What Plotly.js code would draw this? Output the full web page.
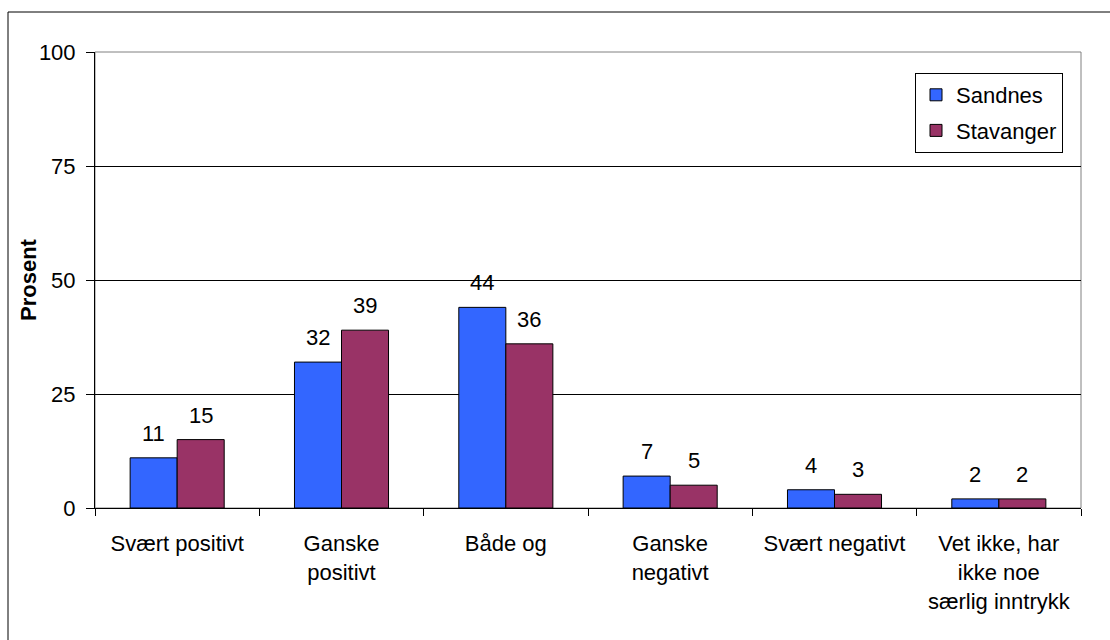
<!DOCTYPE html>
<html>
<head>
<meta charset="utf-8">
<script src="https://cdn.plot.ly/plotly-3.0.1.min.js"></script>
<style>
html,body{margin:0;padding:0;background:#fff;}
#chart{width:1110px;height:640px;}
</style>
</head>
<body>
<div id="chart"></div>
<script>
const categories = ["Svært positivt", "Ganske<br>positivt", "Både og", "Ganske<br>negativt", "Svært negativt", "Vet ikke, har<br>ikke noe<br>særlig inntrykk"];
const sandnes = [11, 32, 44, 7, 4, 2];
const stavanger = [15, 39, 36, 5, 3, 2];
const seriesNames = ["Sandnes", "Stavanger"];
const yTicks = [0, 25, 50, 75, 100];
const yTitle = "Prosent";

const FONT = "Liberation Sans, Arial, sans-serif";
const FS = 22;
const W = 1110, H = 640;
const mL = 95, mR = 29, mT = 52, mB = 132;
const pw = W - mL - mR, ph = H - mT - mB;
const px = v => (v - mL) / pw;
const py = v => (H - mB - v) / ph;

const traces = [
  {type: "bar", name: seriesNames[0], x: categories, y: sandnes, legendgroup: "a",
   marker: {color: "#3366FF", line: {color: "#000", width: 1}}},
  {type: "bar", name: seriesNames[1], x: categories, y: stavanger, legendgroup: "b",
   marker: {color: "#993366", line: {color: "#000", width: 1}}}
];

const barHalf = 23.5;
const annotations = [];
[sandnes, stavanger].forEach((arr, s) => {
  arr.forEach((v, i) => {
    annotations.push({
      x: categories[i], y: v, xref: "x", yref: "y",
      text: String(v), showarrow: false,
      xshift: s === 0 ? -barHalf : barHalf, yshift: 10,
      yanchor: "bottom", xanchor: "center",
      font: {family: FONT, size: FS, color: "#000"}
    });
  });
});
annotations.push({
  xref: "paper", yref: "paper", x: px(28), y: 0.5,
  text: "<b>" + yTitle + "</b>", textangle: -90, showarrow: false,
  xanchor: "center", yanchor: "middle",
  font: {family: FONT, size: FS, color: "#000"}
});

const layout = {
  width: W, height: H,
  margin: {l: mL, r: mR, t: mT, b: mB, pad: 0},
  paper_bgcolor: "#fff", plot_bgcolor: "#fff",
  barmode: "group", bargap: 0.4276, bargroupgap: 0,
  font: {family: FONT, size: FS, color: "#000"},
  showlegend: true,
  legend: {
    x: px(915), y: py(73), xanchor: "left", yanchor: "top",
    bordercolor: "#000", borderwidth: 1, bgcolor: "#fff",
    font: {family: FONT, size: FS, color: "#000"},
    traceorder: "grouped", tracegroupgap: 4, itemwidth: 30
  },
  xaxis: {
    type: "category", showline: true, linecolor: "#000", linewidth: 1,
    ticks: "outside", tickson: "boundaries", ticklen: 7, tickcolor: "#000",
    showgrid: false, zeroline: false, tickangle: 0, ticklabelstandoff: 16,
    tickfont: {family: FONT, size: FS, color: "#000"}
  },
  yaxis: {
    range: [0, 100], tickvals: yTicks, ticktext: yTicks.map(String),
    showline: true, linecolor: "#000", linewidth: 1,
    ticks: "outside", ticklen: 8, tickcolor: "#000", ticklabelstandoff: 6,
    showgrid: true, gridcolor: "#000", gridwidth: 1, zeroline: false,
    tickfont: {family: FONT, size: FS, color: "#000"}
  },
  annotations: annotations,
  shapes: [
    {type: "rect", xref: "paper", yref: "paper", x0: 0, x1: 1, y0: 0, y1: 1,
     line: {color: "#808080", width: 1}, layer: "below"},
    {type: "rect", xref: "paper", yref: "paper", x0: px(8), x1: px(1140), y0: py(670), y1: py(12),
     line: {color: "#000", width: 1}, layer: "above"}
  ]
};

Plotly.newPlot("chart", traces, layout, {displayModeBar: false, staticPlot: true});
</script>
</body>
</html>
